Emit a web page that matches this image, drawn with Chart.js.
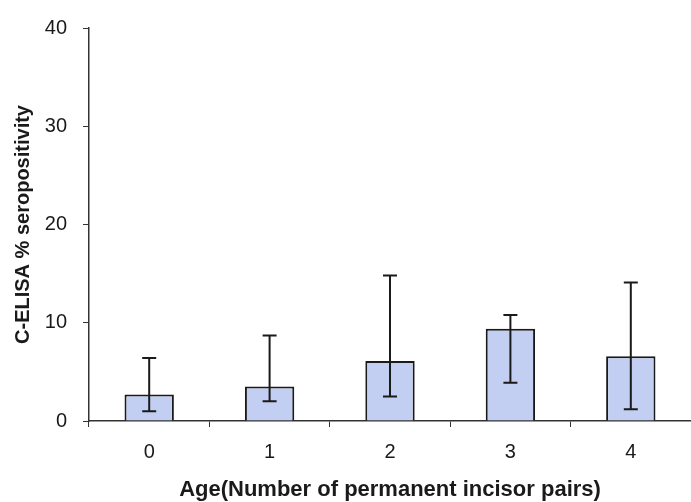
<!DOCTYPE html>
<html>
<head>
<meta charset="utf-8">
<script src="https://cdn.jsdelivr.net/npm/chart.js@4/dist/chart.umd.min.js"></script>
<style>
  html, body { margin: 0; padding: 0; background: #fff; }
  #wrap { width: 691px; height: 502px; }
</style>
</head>
<body>
<div id="wrap"><canvas id="c" width="691" height="502"></canvas></div>
<script>
const categories = ['0', '1', '2', '3', '4'];
const seropositivity = [2.7, 3.5, 6.1, 9.4, 6.6];
const errorUpper = [6.4, 8.7, 14.8, 10.8, 14.1];
const errorLower = [1.0, 2.0, 2.5, 3.9, 1.2];
const yTicks = [0, 10, 20, 30, 40];

const errorBarPlugin = {
  id: 'errorBars',
  afterDatasetsDraw(chart) {
    const meta = chart.getDatasetMeta(0);
    const y = chart.scales.y;
    const ctx = chart.ctx;
    ctx.save();
    ctx.strokeStyle = '#1a1a1a';
    ctx.lineWidth = 2;
    const cap = 7;
    meta.data.forEach((bar, i) => {
      const x = bar.x;
      const yt = y.getPixelForValue(errorUpper[i]);
      const yb = y.getPixelForValue(errorLower[i]);
      ctx.beginPath();
      ctx.moveTo(x, yt); ctx.lineTo(x, yb);
      ctx.moveTo(x - cap, yt); ctx.lineTo(x + cap, yt);
      ctx.moveTo(x - cap, yb); ctx.lineTo(x + cap, yb);
      ctx.stroke();
    });
    ctx.restore();
  }
};

const FONT = 'Liberation Sans, Arial, sans-serif';

new Chart(document.getElementById('c'), {
  type: 'bar',
  data: {
    labels: categories,
    datasets: [{
      data: seropositivity,
      backgroundColor: '#c3cff2',
      borderColor: '#1a1a1a',
      borderWidth: 2,
      barPercentage: 0.41,
      categoryPercentage: 1.0
    }]
  },
  options: {
    responsive: false,
    animation: false,
    devicePixelRatio: 1,
    layout: { padding: { top: 25, right: 0, bottom: 0, left: 0 } },
    plugins: {
      legend: { display: false },
      tooltip: { enabled: false }
    },
    scales: {
      x: {
        offset: true,
        grid: {
          offset: true,
          drawOnChartArea: false,
          drawTicks: true,
          tickLength: 6,
          color: '#333',
          lineWidth: 1
        },
        border: { color: '#333', width: 1.5 },
        ticks: {
          color: '#1a1a1a',
          padding: 13,
          font: { family: FONT, size: 20 }
        },
        title: {
          display: true,
          text: 'Age(Number of permanent incisor pairs)',
          color: '#1a1a1a',
          padding: { top: 0, bottom: -1 },
          font: { family: FONT, size: 22, weight: 'bold' }
        },
        afterFit(scale) { scale.height = 81; }
      },
      y: {
        min: 0,
        max: 40,
        afterBuildTicks(scale) { scale.ticks = yTicks.map(v => ({ value: v })); },
        grid: {
          drawOnChartArea: false,
          drawTicks: true,
          tickLength: 6,
          color: '#333',
          lineWidth: 1
        },
        border: { color: '#333', width: 1.5 },
        ticks: {
          color: '#1a1a1a',
          padding: 16,
          font: { family: FONT, size: 20 }
        },
        title: {
          display: true,
          text: 'C-ELISA % seropositivity',
          color: '#1a1a1a',
          padding: { top: 11, bottom: 4 },
          font: { family: FONT, size: 20, weight: 'bold' }
        },
        afterFit(scale) { scale.width = 89; }
      }
    }
  },
  plugins: [errorBarPlugin]
});
</script>
</body>
</html>
